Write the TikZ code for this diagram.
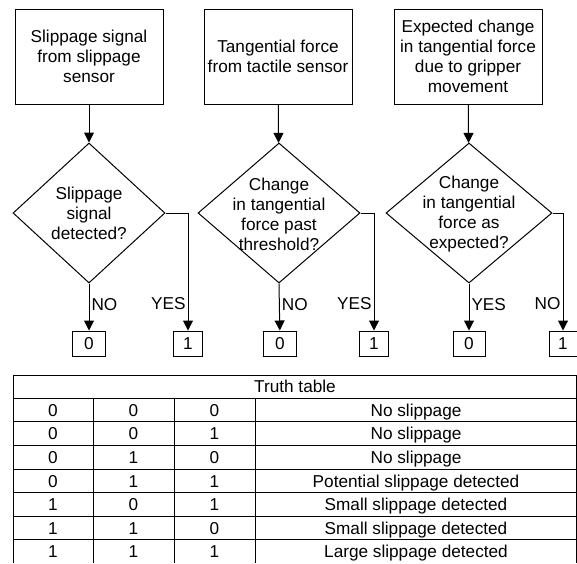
\documentclass[tikz,border=0pt]{standalone}
\usepackage{fontspec}
\setmainfont{Liberation Sans}
\usetikzlibrary{shapes.geometric,arrows.meta}

\begin{document}
\begin{tikzpicture}[x=1pt,y=-1pt,line width=1pt,
	font=\fontsize{17.2}{20}\selectfont,
	>={Triangle[width=10pt,length=10pt]}]
	\tikzstyle{inbox}=[rectangle,draw=black,minimum width=148pt,minimum height=95pt,align=center,inner sep=0pt]
	\tikzstyle{check}=[diamond,draw=black,minimum height=140pt,inner sep=0pt]
	\tikzstyle{txt}=[align=center,inner sep=0pt]
	\tikzstyle{bit}=[rectangle,draw=black,minimum height=25pt,inner sep=0pt,text height=12pt,text depth=0pt]
	\tikzstyle{lbl}=[inner sep=2pt,text height=12pt,text depth=0pt]
	\tikzstyle{cell}=[inner sep=0pt,text height=12pt,text depth=0pt]
	\useasboundingbox (0,0) rectangle (577,563);
	% sensor inputs
	\node[inbox](b1) at (89,56.5) {Slippage signal\\from slippage\\sensor};
	\node[inbox](b2) at (278,56.5) {Tangential force\\from tactile sensor};
	\node[inbox](b3) at (468,56.5) {Expected change\\in tangential force\\due to gripper\\movement};
	% decisions
	\node[check,minimum width=152pt](d1) at (89,213) {};
	\node[check,minimum width=162pt](d2) at (279,213) {};
	\node[check,minimum width=166pt](d3) at (469,213) {};
	\node[txt](t1) at (d1) {Slippage\\signal\\detected?};
	\node[txt](t2) at (279,214) {Change\\in tangential\\force past\\threshold?};
	\node[txt](t3) at (469,214) {Change\\in tangential\\force as\\expected?};
	% outputs
	\node[bit,minimum width=33pt](n1) at (89,343.5) {0};
	\node[bit,minimum width=29pt](y1) at (188,343.5) {1};
	\node[bit,minimum width=33pt](n2) at (280,343.5) {0};
	\node[bit,minimum width=29pt](y2) at (374,343.5) {1};
	\node[bit,minimum width=32pt](y3) at (469,343.5) {0};
	\node[bit,minimum width=28pt](n3) at (563,343.5) {1};
	\draw[->] (b1) to (d1);
	\draw[->] (b2) to (d2);
	\draw[->] (b3) to (d3);
	\draw[->] (d1.south) to node[lbl,pos=0.44,right]{NO} (n1);
	\draw[->] (d1.east) -| node[lbl,pos=0.885,left]{YES} (y1);
	\draw[->] (d2.south) to node[lbl,pos=0.44,right]{NO} (n2);
	\draw[->] (d2.east) -| node[lbl,pos=0.885,left]{YES} (y2);
	\draw[->] (d3.south) to node[lbl,pos=0.44,right]{YES} (y3);
	\draw[->] (d3.east) -| node[lbl,pos=0.885,left]{NO} (n3);
	% truth table
	\draw (13,563) -- (13,375) -- (576.5,375) -- (576.5,563);
	\node[cell](head) at (295,386.6) {Truth table};
	\foreach \k in {0,...,6}
		\draw (13,{398.3+\k*23.6}) -- (576.5,{398.3+\k*23.6});
	\foreach \cx in {93,174,255}
		\draw (\cx,398.3) -- (\cx,563);
	\foreach \a/\b/\c/\res [count=\i] in {0/0/0/No slippage,0/0/1/No slippage,0/1/0/No slippage,0/1/1/Potential slippage detected,1/0/1/Small slippage detected,1/1/0/Small slippage detected,1/1/1/Large slippage detected}{
		\node[cell](r\i a) at (53,{386.6+\i*23.6}) {\a};
		\node[cell](r\i b) at (133.5,{386.6+\i*23.6}) {\b};
		\node[cell](r\i c) at (214.5,{386.6+\i*23.6}) {\c};
		\node[cell](r\i d) at (416,{386.6+\i*23.6}) {\res};
	}
\end{tikzpicture}
\end{document}
